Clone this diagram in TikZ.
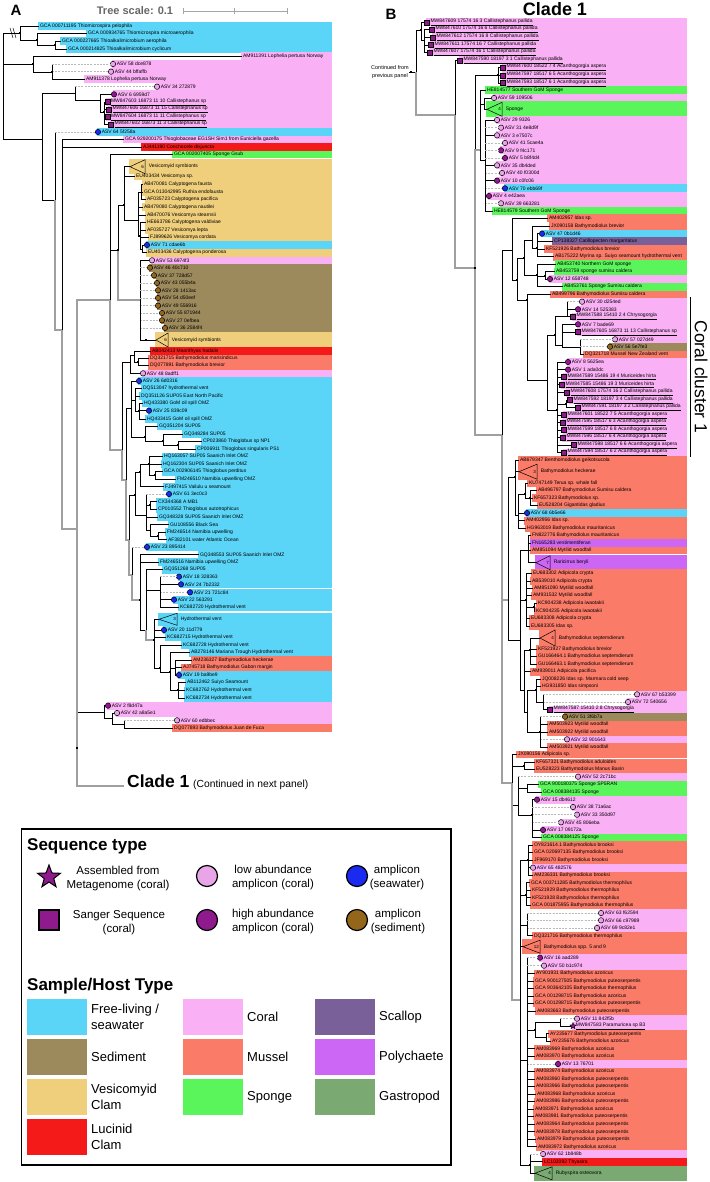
\documentclass[tikz,border=0pt]{standalone}
\usepackage{fontspec}
\setmainfont{Liberation Sans}
\usetikzlibrary{calc,shapes.geometric}
\pgfdeclarelayer{bg}
\pgfsetlayers{bg,main}

% host / sample colours
\definecolor{cyn}{HTML}{5AD5F8}
\definecolor{sed}{HTML}{9C8A5C}
\definecolor{snd}{HTML}{F0CF7C}
\definecolor{luc}{HTML}{F51A1A}
\definecolor{crl}{HTML}{FAB0F5}
\definecolor{mus}{HTML}{FA7B68}
\definecolor{spg}{HTML}{5AF55A}
\definecolor{scl}{HTML}{7A6098}
\definecolor{pol}{HTML}{CC66F5}
\definecolor{gas}{HTML}{7AAA72}
% sequence markers
\definecolor{mlo}{HTML}{E8A6E8}
\definecolor{mhi}{HTML}{8E1A8E}
\definecolor{mbl}{HTML}{1A2AF0}
\definecolor{msd}{HTML}{94661C}

\tikzset{
  br/.style={black,line width=.5pt},
  gb/.style={gray!75,line width=1.1pt},
  dsh/.style={gray!55,dash pattern=on 2pt off 1.2pt,line width=.6pt},
  lbl/.style={font=\fontsize{5}{6}\selectfont,inner sep=.6pt,anchor=west},
  tnum/.style={font=\fontsize{4.5}{5}\selectfont,inner sep=.3pt,anchor=east},
  sup/.style={fill=black,minimum size=2.6pt,inner sep=0},
  mk n/.style={inner sep=0,minimum size=0},
  mk lo/.style={circle,draw=black,line width=.5pt,fill=mlo,minimum size=5.4pt,inner sep=0},
  mk hi/.style={circle,draw=black,line width=.5pt,fill=mhi,minimum size=5.4pt,inner sep=0},
  mk bl/.style={circle,draw=black,line width=.5pt,fill=mbl,minimum size=5.4pt,inner sep=0},
  mk sd/.style={circle,draw=black,line width=.5pt,fill=msd,minimum size=5.4pt,inner sep=0},
  mk sq/.style={rectangle,draw=black,line width=.5pt,fill=mhi,minimum size=5pt,inner sep=0},
  mk st/.style={star,star points=5,star point ratio=2.3,draw=black,line width=.4pt,fill=mhi,minimum size=6.5pt,inner sep=0},
  lgh/.style={font=\bfseries\fontsize{17}{18}\selectfont,inner sep=0,anchor=west},
  lgt/.style={font=\fontsize{11.5}{14}\selectfont,align=center,inner sep=0},
  lgs/.style={font=\fontsize{13}{15.5}\selectfont,align=left,inner sep=0,anchor=west},
  lgm/.style={circle,draw=black,line width=1.2pt,minimum size=21pt,inner sep=0}
}

% leaf: [edge]{name}{parent}{x}{y}{band}{marker}{text}
\newcommand\leaf[8][br]{%
  \node[mk #7] (#2m) at (#4,#5) {};
  \node[lbl] (#2) at (#2m.east) {#8};
  \begin{pgfonlayer}{bg}
    \fill[#6] ($(#2m.center)+(-1.5,-3.8)$) rectangle (\bandR,#5+3.8);
  \end{pgfonlayer}
  \draw[br] (#3) -- (#3 |- #2m.west);
  \draw[#1] (#3 |- #2m.west) -- (#2m.west);
}
% inner node: [edge]{name}{parent}{x}{y}
\newcommand\inode[5][br]{%
  \coordinate (#2) at (#4,#5);
  \draw[#1] (#3) |- (#2);
}
% collapsed clade: {name}{parent}{x}{y}{right}{half}{colour}{count}{text}
\newcommand\clade[9]{%
  \coordinate (#1) at (#3,#4);
  \begin{pgfonlayer}{bg}
    \fill[#7] (#3-1.5,#4-#6-.8) rectangle (\bandR,#4+#6+.8);
  \end{pgfonlayer}
  \draw[fill=#7,line width=.5pt] (#1) -- (#5,#4-#6) -- (#5,#4+#6) -- cycle;
  \node[tnum] (#1n) at (#5-.7,#4) {#8};
  \node[lbl] (#1t) at (#5+3,#4) {#9};
  \draw[br] (#2) |- (#1);
}
\newcommand\swatch[5]{%
  \fill[#4] (#2,#3) rectangle ++(60,36);
  \node[lgs] (#1) at (#2+64,#3+18) {#5};
}

\begin{document}
\begin{tikzpicture}[x=1pt,y=-1pt]
\useasboundingbox (0,0) rectangle (709,1182);

% ---------------- panel A ----------------
\def\bandR{332}
\node[font=\bfseries\fontsize{15}{15}\selectfont] (pA) at (16,10) {A};
\node[font=\bfseries\fontsize{11}{12}\selectfont,text=gray!80!black] (tsc) at (135,11) {Tree scale: 0.1};
\draw[gray!70,line width=.8pt] (183,11) -- (287,11);
\foreach \t in {183,234,287} \draw[gray!70,line width=.8pt] (\t,8) -- (\t,14);

\coordinate (R) at (3,86);
\inode{o1}{R}{20}{33}
\draw[br] (10,28) -- (13,38) (13,28) -- (16,38);
\leaf{a1}{o1}{39}{26}{cyn}{n}{GCA 000711195 Thiomicrospira pelophila}
\inode{o2}{o1}{37}{40}
\leaf{a2}{o2}{87}{33.7}{cyn}{n}{GCA 000934765 Thiomicrospira microaerophila}
\inode{o3}{o2}{55}{45}
\leaf{a3}{o3}{61}{41.3}{cyn}{n}{GCA 000227665 Thioalkalimicrobium aerophila}
\leaf{a4}{o3}{67}{49}{cyn}{n}{GCA 000214825 Thioalkalimicrobium cyclicum}

\inode{L}{R}{33}{64}
\leaf{a5}{L}{242}{56.3}{crl}{n}{AM911391 Lophelia pertusa Norway}
\inode{L1}{L}{52}{72}
\leaf[dsh]{a6}{L1}{113}{64}{crl}{lo}{ASV 58 dce878}
\leaf[dsh]{a7}{L1}{111}{71.7}{crl}{lo}{ASV 44 bffaffb}
\leaf{a8}{L1}{85}{79.3}{crl}{n}{AM911378 Lophelia pertusa Norway}

\inode{M}{R}{42}{139}
\inode{C}{M}{75}{93}
\leaf[dsh]{a9}{C}{157}{86.7}{crl}{lo}{ASV 34 272879}
\inode{C1}{C}{100}{100}
\leaf{a10}{C1}{114}{94.3}{crl}{hi}{ASV 6 6959d7}
\inode{C2}{C1}{104}{112}
\leaf{a11}{C2}{107.5}{102}{crl}{sq}{\underline{MW847603 16873 11 10 Callistephanus sp}}
\leaf{a12}{C2}{109}{109.3}{crl}{sq}{\underline{MW847606 16873 11 15 Callistephanus sp}}
\leaf{a13}{C2}{107.5}{117}{crl}{sq}{\underline{MW847604 16873 11 11 Callistephanus sp}}
\leaf{a14}{C2}{111}{124.7}{crl}{sq}{\underline{MW847602 16873 11 3 Callistephanus sp}}

\inode{M2}{M}{55}{200}
\leaf[dsh]{a15}{M2}{98}{132}{cyn}{bl}{ASV 64 5f258a}
\inode[gb]{M3}{M2}{62}{330}
\leaf{a16}{M3}{124}{139.7}{crl}{n}{GCA 929200175 Thioglobaceae EG1SH Sim1 from Euniciella gazella}
\leaf{a17}{M3}{142}{147}{luc}{n}{AJ441190 Conchocele disjuncta}
\inode[gb]{N77}{M3}{77}{529}
\inode[gb]{V}{N77}{110}{300}
\leaf{a18}{V}{173}{154.7}{spg}{n}{GCA 002007405 Sponge Gsub}

\inode{VS}{V}{118}{250}
\inode{VA}{VS}{124}{205}
\clade{t1}{VA}{130}{166.7}{145}{7}{snd}{6}{Vesicomyid symbionts}
\leaf{a20}{VA}{135}{176.7}{snd}{n}{EU403434 Vesicomya sp.}
\inode{VA1}{VA}{138}{220}
\inode{VA2}{VA1}{141}{192}
\leaf{a21}{VA2}{143}{184.3}{snd}{n}{AB470081 Calyptogena fausta}
\leaf{a22}{VA2}{143}{192}{snd}{n}{GCA 013042995 Ruthia endofausta}
\leaf{a23}{VA2}{146}{199.7}{snd}{n}{AF035723 Calyptogena pacifica}
\leaf{a24}{VA1}{143}{207.3}{snd}{n}{AB479080 Calyptogena nautilei}
\leaf{a25}{VA1}{146}{215}{snd}{n}{AB470076 Vesicomya stearnsii}
\inode{VA3}{VA1}{140}{236}
\leaf{a26}{VA3}{146}{222.7}{snd}{n}{HE663786 Calyptogena valdiviae}
\leaf{a27}{VA3}{146}{230}{snd}{n}{AF035727 Vesicomya lepta}
\leaf{a28}{VA3}{149}{237.7}{snd}{n}{FJ899626 Vesicomya cordata}
\inode{VA4}{VA3}{142}{249}
\leaf{a29}{VA4}{147}{245}{cyn}{bl}{ASV 71 cdae6b}
\leaf{a30}{VA4}{147}{252.7}{snd}{n}{EU403436 Calyptogena ponderosa}

\inode[gb]{VB}{VS}{140}{300}
\leaf{a31}{VB}{152}{260.3}{crl}{lo}{ASV 53 6974f3}
\leaf[dsh]{a32}{VB}{150}{267.7}{sed}{sd}{ASV 46 40c710}
\leaf[dsh]{a33}{VB}{154}{275.3}{sed}{sd}{ASV 37 728d57}
\leaf[dsh]{a34}{VB}{157}{283}{sed}{sd}{ASV 43 055b4a}
\leaf[dsh]{a35}{VB}{158}{290.3}{sed}{sd}{ASV 28 1413ac}
\leaf[dsh]{a36}{VB}{158}{298}{sed}{sd}{ASV 54 d50eef}
\leaf[dsh]{a37}{VB}{158}{305.7}{sed}{sd}{ASV 49 556916}
\leaf[dsh]{a38}{VB}{162}{313}{sed}{sd}{ASV 55 871944}
\leaf[dsh]{a39}{VB}{162}{320.3}{sed}{sd}{ASV 27 0efbea}
\leaf[dsh]{a40}{VB}{165}{328}{sed}{sd}{ASV 36 2584f4}
\inode{VB1}{VB}{146}{340}
\clade{t2}{VB1}{156}{340}{168}{7}{snd}{6}{Vesicomyid symbionts}

\inode[gb]{B1}{V}{122}{450}
\inode{B2}{B1}{130}{362}
\inode{B3}{B2}{134}{355}
\leaf{a41}{B3}{151}{351}{luc}{n}{AB042413 Maorithyas hadalis}
\inode{B4}{B3}{138}{362}
\leaf{a42}{B4}{149}{358.3}{mus}{n}{DQ321715 Bathymodiolus marisindicus}
\leaf{a43}{B4}{149}{365.7}{mus}{n}{DQ077891 Bathymodiolus brevior}
\leaf{a44}{B2}{143}{373.3}{crl}{lo}{ASV 48 8adff1}

\inode[gb]{S1}{B1}{126}{480}
\inode{S2}{S1}{131}{408}
\leaf{a45}{S2}{139}{381}{cyn}{bl}{ASV 26 6d0316}
\inode{S4}{S2}{135}{400}
\leaf{a46}{S4}{142}{388.3}{cyn}{n}{DQ513047 hydrothermal vent}
\leaf{a47}{S4}{140}{396}{cyn}{n}{DQ351126 SUP05 East North Pacific}
\inode{S5}{S4}{139}{411}
\leaf{a48}{S5}{143}{403.3}{cyn}{n}{HQ433380 GoM oil spill OMZ}
\leaf{a49}{S5}{149}{410.7}{cyn}{bl}{ASV 25 839c09}
\leaf{a50}{S5}{146}{419}{cyn}{n}{HQ433415 GoM oil spill OMZ}
\inode{S6}{S2}{145}{437}
\leaf{a51}{S6}{158}{426}{cyn}{n}{GQ351204 SUP05}
\inode{S7}{S6}{163}{441}
\leaf{a52}{S7}{183}{434}{cyn}{n}{GQ348284 SUP05}
\inode{S8}{S7}{178}{445}
\leaf{a53}{S8}{202}{441.3}{cyn}{n}{CP023860 Thioglobus sp NP1}
\leaf{a54}{S8}{196}{449}{cyn}{n}{CP006911 Thioglobus singularis PS1}

\inode[gb]{S3}{S1}{129}{540}
\inode{S9}{S3}{135}{495}
\inode{S11}{S9}{140}{472}
\inode{S12}{S11}{149}{464}
\leaf{a55}{S12}{163}{456.3}{cyn}{n}{HQ163057 SUP05 Saanich Inlet OMZ}
\leaf{a56}{S12}{162}{464}{cyn}{n}{HQ162304 SUP05 Saanich Inlet OMZ}
\inode{S13}{S12}{155}{475}
\leaf{a57}{S13}{163}{471.7}{cyn}{n}{GCA 002906145 Thioglobus perditus}
\leaf{a58}{S13}{176}{479.3}{cyn}{n}{FM246510 Namibia upwelling OMZ}
\leaf{a59}{S11}{164}{486.7}{cyn}{n}{FJ497415 Vailulu u seamount}
\inode{S14}{S9}{146}{515}
\leaf[dsh]{a60}{S14}{169}{494}{cyn}{bl}{ASV 61 3ec0c3}
\inode{S15}{S14}{150}{505}
\leaf{a61}{S15}{157}{501.7}{cyn}{n}{CX344368 A MB1}
\leaf{a62}{S15}{157}{509.3}{cyn}{n}{CP010552 Thioglobus autotrophicus}
\leaf{a63}{S14}{158}{517}{cyn}{n}{GQ348328 SUP05 Saanich Inlet OMZ}
\inode{S16}{S14}{150}{530}
\leaf{a64}{S16}{169}{524.3}{cyn}{n}{GU108556 Black Sea}
\inode{S17}{S16}{158}{536}
\leaf{a65}{S17}{166}{532}{cyn}{n}{FM246514 Namibia upwelling}
\leaf{a66}{S17}{167}{539.3}{cyn}{n}{AF382101 water Atlantic Ocean}

\inode[gb]{S10}{S3}{132}{575}
\leaf[dsh]{a67}{S10}{147}{547}{cyn}{bl}{ASV 23 895414}
\inode[gb]{S18}{S10}{140}{600}
\leaf{a68}{S18}{199}{554.7}{cyn}{n}{GQ348553 SUP05 Saanich Inlet OMZ}
\leaf{a69}{S18}{159}{562}{cyn}{n}{FM246516 Namibia upwelling OMZ}
\inode{S19}{S18}{146}{630}
\leaf{a70}{S19}{163}{569.7}{cyn}{n}{GQ351268 SUP05}
\inode{S20}{S19}{160}{590}
\leaf[dsh]{a71}{S20}{179}{576.7}{cyn}{bl}{ASV 18 328363}
\leaf{a72}{S20}{181}{584.3}{cyn}{bl}{ASV 24 7b2332}
\leaf[dsh]{a73}{S20}{190}{592.3}{cyn}{bl}{ASV 21 721c84}
\leaf{a74}{S20}{174}{599.7}{cyn}{bl}{ASV 22 563291}
\leaf{a75}{S20}{179}{607}{cyn}{n}{KC682720 Hydrothermal vent}
\inode[gb]{S22}{S19}{154}{640}
\clade{t3}{S22}{159}{619.3}{177}{6}{cyn}{3}{Hydrothermal vent}
\leaf{a76}{S22}{164}{630}{cyn}{bl}{ASV 20 11d779}
\leaf{a77}{S22}{166}{637.3}{cyn}{n}{KC682715 Hydrothermal vent}
\inode{S23}{S22}{160}{668}
\leaf{a78}{S23}{182}{645}{cyn}{n}{KC682728 Hydrothermal vent}
\inode{S24}{S23}{170}{672}
\leaf{a79}{S24}{190}{652.7}{cyn}{n}{AB278146 Mariana Trough Hydrothermal vent}
\inode{S25}{S24}{175}{668}
\leaf{a80}{S25}{192}{660}{mus}{n}{AM236327 Bathymodiolus heckerae}
\leaf{a81}{S25}{182}{667.7}{mus}{n}{AJ745718 Bathymodiolus Gabon margin}
\leaf{a82}{S25}{179}{675}{cyn}{bl}{ASV 19 ba9be9}
\inode{S26}{S24}{178}{690}
\leaf{a83}{S26}{186}{682.7}{cyn}{n}{AB112462 Suiyo Seamount}
\leaf{a84}{S26}{185}{690.3}{cyn}{n}{KC682762 Hydrothermal vent}
\leaf{a85}{S26}{185}{698}{cyn}{n}{KC682734 Hydrothermal vent}

\inode{P}{N77}{104}{712}
\leaf{a86}{P}{108}{705.7}{crl}{hi}{ASV 2 f8d47a}
\inode{P1}{P}{112}{718}
\leaf{a87}{P1}{117}{713}{crl}{lo}{ASV 42 a8a5e1}
\inode{P2}{P1}{124}{724}
\leaf[dsh]{a88}{P2}{177}{720.3}{crl}{lo}{ASV 60 edbbec}
\leaf{a89}{P2}{173}{728}{mus}{n}{DQ077893 Bathymodiolus Juan de Fuca}

\coordinate (c1) at (124,786);
\draw[gb] (N77) |- (c1);
\coordinate (N77b) at (77,748);
\node[font=\bfseries\fontsize{17.5}{18}\selectfont,inner sep=0,anchor=base west] (cl1) at (127,787) {Clade 1};
\node[font=\fontsize{10.3}{12}\selectfont,inner sep=0,anchor=base west] (cl1c) at (193,787) {(Continued in next panel)};

\foreach \n in {o1,o2,o3,L,L1,C2,VS,VA,VA3,VB1,B4,S5,S6,S7,S8,S9,S11,S12,S13,S15,S17,S18,S22,S23,S24,S26,N77b}
  \node[sup] (s-\n) at (\n) {};

% ---------------- panel B ----------------
\def\bandR{687}
\node[font=\bfseries\fontsize{15}{15}\selectfont] (pB) at (391,14) {B};
\node[font=\bfseries\fontsize{18}{18}\selectfont] (cladeB) at (555,9) {Clade 1};
\node[font=\fontsize{5.5}{8}\selectfont,align=center,inner sep=0] (cont) at (390,72) {Continued from\\previous panel};
\coordinate (Bin) at (416,72);
\coordinate (Bent) at (411,72);
\draw[br] (cont.east) -- (Bin);

\inode{Bcal}{Bin}{421}{30}
\leaf{b1}{Bcal}{427}{22.3}{crl}{sq}{\underline{MW847609 17574 16 3 Callistephanus pallida}}
\inode{Bc2}{Bcal}{424}{40}
\leaf{b2}{Bc2}{432}{29.7}{crl}{sq}{\underline{MW847610 17574 16 6 Callistephanus pallida}}
\leaf{b3}{Bc2}{433}{37.3}{crl}{sq}{\underline{MW847612 17574 16 8 Callistephanus pallida}}
\leaf{b4}{Bc2}{431}{45}{crl}{sq}{\underline{MW847611 17574 16 7 Callistephanus pallida}}
\leaf{b5}{Bc2}{430}{52.7}{crl}{sq}{\underline{MW847607 17574 16 1 Callistephanus pallida}}
\inode[gb]{Bmain}{Bin}{455}{115}
\leaf{b6}{Bmain}{460}{60.3}{crl}{sq}{\underline{MW847590 18197 3 1 Callistephanus pallida}}
\inode[gb]{Bq}{Bmain}{475}{268}
\inode{Bacan}{Bq}{498}{75}
\leaf{b7}{Bacan}{503}{67.7}{crl}{sq}{\underline{MW847600 18522 7 4 Acanthogorgia aspera}}
\leaf{b8}{Bacan}{503}{75.3}{crl}{sq}{\underline{MW847597 18517 6 5 Acanthogorgia aspera}}
\leaf{b9}{Bacan}{503}{83}{crl}{sq}{\underline{MW847593 18517 6 1 Acanthogorgia aspera}}

\inode[gb]{Bsp}{Bq}{480}{150}
\leaf{b10}{Bsp}{486}{90.3}{spg}{n}{HE814577 Southern GoM Sponge}
\inode{Bsp1}{Bsp}{484}{104}
\leaf{b11}{Bsp1}{494}{98}{crl}{lo}{ASV 59 109506}
\clade{t4}{Bsp1}{487}{109.3}{502}{7}{spg}{4}{Sponge}
\inode{Bsp2}{Bsp}{485}{160}
\leaf{b12}{Bsp2}{497}{120}{crl}{lo}{ASV 29 9326}
\leaf[dsh]{b13}{Bsp2}{501}{127.7}{crl}{lo}{ASV 31 4e8d9f}
\leaf{b14}{Bsp2}{497}{135.3}{crl}{lo}{ASV 3 e7507c}
\leaf[dsh]{b15}{Bsp2}{505}{143}{crl}{lo}{ASV 41 5cae4a}
\leaf[dsh]{b16}{Bsp2}{501}{150.3}{crl}{hi}{ASV 9 f4c171}
\leaf[dsh]{b17}{Bsp2}{505}{158}{crl}{hi}{ASV 5 b8f4d4}
\leaf{b18}{Bsp2}{497}{165.3}{crl}{lo}{ASV 35 db4ded}
\leaf[dsh]{b19}{Bsp2}{502}{173}{crl}{lo}{ASV 40 f0300d}
\leaf{b20}{Bsp2}{497}{180.7}{crl}{hi}{ASV 10 c0fc06}
\leaf[dsh]{b21}{Bsp2}{505}{188.3}{cyn}{bl}{ASV 70 ebb69f}
\leaf{b22}{Bsp2}{489}{196}{crl}{hi}{ASV 4 e42aea}
\leaf[dsh]{b23}{Bsp2}{501}{203.3}{crl}{lo}{ASV 39 663281}
\leaf{b24}{Bsp2}{493}{211}{spg}{n}{HE814579 Southern GoM Sponge}

\inode[gb]{Bz}{Bq}{502}{435}
\inode{Bid}{Bz}{512}{250}
\leaf{b25}{Bid}{548}{218.3}{mus}{n}{AM402957 Idas sp.}
\inode{Bid1}{Bid}{517}{280}
\inode{Bbr}{Bid1}{524}{258}
\inode{Bbr1}{Bbr}{532}{240}
\leaf{b26}{Bbr1}{550}{226}{mus}{n}{JX090158 Bathymodiolus brevior}
\inode{Bbr2}{Bbr1}{537}{248}
\leaf{b27}{Bbr2}{542}{233.7}{cyn}{bl}{ASV 47 0b1d46}
\leaf{b28}{Bbr2}{553}{241.3}{scl}{n}{CP138327 Catillopecten margaritatus}
\leaf{b29}{Bbr2}{545}{249}{mus}{n}{KF521926 Bathymodiolus brevior}
\leaf{b30}{Bbr2}{554}{256.7}{mus}{n}{AB175222 Myrina sp. Suiyo seamount hydrothermal vent}
\inode{Bsg}{Bbr}{537}{275}
\leaf{b31}{Bsg}{556}{264}{spg}{n}{AB453740 Northern GoM sponge}
\inode{Bsg1}{Bsg}{545}{276}
\leaf{b32}{Bsg1}{555}{271.3}{spg}{n}{AB453759 sponge sumisu caldera}
\leaf{b33}{Bsg1}{550}{279}{crl}{hi}{ASV 12 658748}
\leaf{b34}{Bsg}{563}{286.7}{spg}{n}{AB453761 Sponge Sumisu caldera}

\inode{Bcc}{Bid1}{527}{300}
\leaf{b35}{Bcc}{551}{294.3}{mus}{n}{AB499796 Bathymodiolus Sumisu caldera}
\inode{Bcc1}{Bcc}{547}{380}
\inode{Bcc2}{Bcc1}{555}{335}
\inode{Bcc4}{Bcc2}{567}{316}
\leaf[dsh]{b36}{Bcc4}{582}{301.7}{crl}{lo}{ASV 30 d254ed}
\leaf{b37}{Bcc4}{578}{309.3}{crl}{hi}{ASV 14 525383}
\leaf{b38}{Bcc4}{573}{316.7}{crl}{sq}{\underline{MW847588 15410 2 4 Chrysogorgia}}
\inode{Bcc5}{Bcc2}{562}{345}
\leaf{b39}{Bcc5}{578}{324.3}{crl}{hi}{ASV 7 bade69}
\leaf{b40}{Bcc5}{578}{332}{crl}{sq}{\underline{MW847605 16873 11 13 Callistephanus sp}}
\inode{Bcc6}{Bcc5}{580}{347}
\leaf[dsh]{b41}{Bcc6}{615}{339.3}{crl}{lo}{ASV 57 027d49}
\leaf[dsh]{b42}{Bcc6}{610}{346.7}{sed}{sd}{ASV 56 5e7fe3}
\leaf{b43}{Bcc6}{584}{354.3}{mus}{n}{DQ321718 Mussel New Zealand vent}
\inode{Bcc3}{Bcc1}{557}{410}
\leaf{b44}{Bcc3}{568}{362}{crl}{hi}{ASV 8 5625ea}
\leaf{b45}{Bcc3}{568}{369.7}{crl}{hi}{ASV 1 ada0dc}
\leaf{b46}{Bcc3}{564}{377}{crl}{sq}{\underline{MW847589 15486 19 4 Muriceides hirta}}
\leaf{b47}{Bcc3}{562}{384.7}{crl}{sq}{\underline{MW847585 15486 19 3 Muriceides hirta}}
\leaf{b48}{Bcc3}{567}{392.7}{crl}{sq}{\underline{MW847608 17574 16 2 Callistephanus pallida}}
\inode{Bcc7}{Bcc3}{566}{404}
\leaf{b49}{Bcc7}{570}{400}{crl}{sq}{\underline{MW847592 18197 3 4 Callistephanus pallida}}
\leaf{b50}{Bcc7}{578}{407.3}{crl}{sq}{\underline{MW847591 18197 3 2 Callistephanus pallida}}
\leaf{b51}{Bcc3}{564}{415}{crl}{sq}{\underline{MW847601 18522 7 5 Acanthogorgia aspera}}
\leaf{b52}{Bcc3}{563}{422.7}{crl}{sq}{\underline{MW847595 18517 6 3 Acanthogorgia aspera}}
\leaf{b53}{Bcc3}{564}{430}{crl}{sq}{\underline{MW847599 18517 6 8 Acanthogorgia aspera}}
\leaf{b54}{Bcc3}{563}{437.7}{crl}{sq}{\underline{MW847596 18517 6 4 Acanthogorgia aspera}}
\leaf{b55}{Bcc3}{574}{445}{crl}{sq}{\underline{MW847598 18517 6 6 Acanthogorgia aspera}}
\leaf{b56}{Bcc3}{564}{452.7}{crl}{sq}{\underline{MW847594 18517 6 2 Acanthogorgia aspera}}
\draw[line width=1pt] (690,297) -- (690,457);
\node[rotate=-90,font=\fontsize{17.5}{18}\selectfont,inner sep=0] (ccl) at (701,377) {Coral cluster 1};

\inode[gb]{Bm}{Bz}{508}{600}
\inode{Bm1}{Bm}{515}{477}
\leaf{b57}{Bm1}{519}{460}{mus}{n}{AB679347 Benthomodiolus geikotsucola}
\clade{t5}{Bm1}{519}{471.7}{537}{7.5}{mus}{3}{Bathymodiolus heckerae}
\inode{Bm3}{Bm1}{518}{515}
\inode{Bm4}{Bm3}{525}{494}
\leaf{b58}{Bm4}{528}{483}{mus}{n}{KU747149 Terua sp. whale fall}
\inode{Bm5}{Bm4}{530}{498}
\leaf{b59}{Bm5}{537}{490}{mus}{n}{AB496797 Bathymodiolus Sumisu caldera}
\leaf{b60}{Bm5}{533}{498}{mus}{n}{KF657323 Bathymodiolus sp.}
\leaf{b61}{Bm5}{538}{505.7}{mus}{n}{EU528204 Gigantidas gladius}
\leaf{b62}{Bm3}{527}{513}{cyn}{bl}{ASV 68 6b5e66}
\leaf{b63}{Bm3}{525}{520.7}{mus}{n}{AM402956 Idas sp.}
\leaf{b64}{Bm3}{526}{528}{mus}{n}{HG963019 Bathymodiolus mauritanicus}
\inode{Bm6}{Bm}{520}{640}
\inode{Bm7}{Bm6}{528}{550}
\leaf{b65}{Bm7}{531}{535.7}{mus}{n}{FN822776 Bathymodiolus mauritanicus}
\leaf{b66}{Bm7}{531}{543}{pol}{n}{FN165283 vestimentiferan}
\leaf{b67}{Bm7}{531}{550.3}{mus}{n}{AM851094 Mytilid woodfall}
\clade{t6}{Bm7}{536}{562.7}{550}{7}{pol}{7}{Raricirrus beryli}
\inode{Bm8}{Bm6}{526}{600}
\leaf{b68}{Bm8}{532}{573}{mus}{n}{EU683302 Adipicola crypta}
\leaf{b69}{Bm8}{531}{581}{mus}{n}{AB539010 Adipicola crypta}
\leaf{b70}{Bm8}{533}{588.3}{mus}{n}{AM851090 Mytilid woodfall}
\leaf{b71}{Bm8}{532}{595.7}{mus}{n}{AM931532 Mytilid woodfall}
\inode{Bm9}{Bm8}{534}{607}
\leaf{b72}{Bm9}{537}{603.3}{mus}{n}{KC904238 Adipicola iwaotakii}
\leaf{b73}{Bm9}{535}{611}{mus}{n}{KC904235 Adipicola iwaotakii}
\leaf{b74}{Bm8}{530}{618.7}{mus}{n}{EU683308 Adipicola crypta}
\leaf{b75}{Bm8}{530}{626.3}{mus}{n}{EU683305 Idas sp.}
\inode{Bm10}{Bm6}{524}{690}
\inode{Bm11}{Bm10}{530}{650}
\clade{t7}{Bm11}{540}{638}{555}{8}{mus}{4}{Bathymodiolus septemdierum}
\leaf{b76}{Bm11}{537}{649}{mus}{n}{KF521927 Bathymodiolus brevior}
\leaf{b77}{Bm11}{537}{656.7}{mus}{n}{GU166464.1 Bathymodiolus septemdierum}
\leaf{b78}{Bm11}{537}{664.3}{mus}{n}{GU166463.1 Bathymodiolus septemdierum}
\leaf{b79}{Bm10}{531}{671.7}{mus}{n}{AM939011 Adipicola pacifica}
\inode{Bm12}{Bm10}{527}{712}
\inode{Bm13}{Bm12}{536}{690}
\leaf{b80}{Bm13}{541}{679.3}{mus}{n}{JQ008226 Idas sp. Marmara cold seep}
\leaf{b81}{Bm13}{541}{686.7}{mus}{n}{HG931850 Idas simpsoni}
\inode{Bm14}{Bm13}{543}{702}
\leaf[dsh]{b82}{Bm14}{637}{694.3}{crl}{lo}{ASV 67 b53399}
\leaf[dsh]{b83}{Bm14}{628}{702}{crl}{lo}{ASV 72 540656}
\leaf{b84}{Bm14}{550}{709.3}{crl}{sq}{\underline{MW847587 15410 2 8 Chrysogorgia}}
\inode{Bm15}{Bm12}{540}{732}
\leaf[dsh]{b85}{Bm15}{565}{716.7}{sed}{sd}{ASV 51 3f6b7a}
\leaf{b86}{Bm15}{548}{724.3}{mus}{n}{AM503923 Mytilid woodfall}
\leaf{b87}{Bm15}{548}{732}{mus}{n}{AM503922 Mytilid woodfall}
\leaf[dsh]{b88}{Bm15}{567}{739.3}{crl}{lo}{ASV 32 901643}
\leaf{b89}{Bm15}{548}{747}{mus}{n}{AM503921 Mytilid woodfall}

\inode[gb]{Bx}{Bz}{512}{783}
\leaf{b90}{Bx}{517}{754.3}{mus}{n}{JX090156 Adipicola sp.}
\inode{Bmm}{Bx}{524}{766}
\leaf{b91}{Bmm}{535}{762.3}{mus}{n}{KF657321 Bathymodiolus aduloides}
\leaf{b92}{Bmm}{535}{769.5}{mus}{n}{EU528223 Bathymodiolus Manus Basin}
\inode{Bs}{Bx}{518}{805}
\leaf[dsh]{b93}{Bs}{578}{776.7}{crl}{lo}{ASV 52 2c71bc}
\inode{Bs1}{Bs}{527}{788}
\leaf{b94}{Bs1}{539}{784.3}{spg}{n}{GCA 900180375 Sponge SP5RAN}
\leaf{b95}{Bs1}{542}{792}{spg}{n}{GCA 008384135 Sponge}
\inode{Bs2}{Bs}{532}{815}
\leaf{b96}{Bs2}{537}{799.7}{crl}{hi}{ASV 15 db4612}
\leaf[dsh]{b97}{Bs2}{573}{807}{crl}{lo}{ASV 38 71a6ac}
\leaf[dsh]{b98}{Bs2}{577}{814.7}{crl}{lo}{ASV 33 350d97}
\leaf[dsh]{b99}{Bs2}{561}{822.3}{crl}{lo}{ASV 45 806eba}
\leaf{b100}{Bs2}{543}{830}{crl}{hi}{ASV 17 09172a}
\leaf{b101}{Bs2}{542}{837.7}{spg}{n}{GCA 008384125 Sponge}

\inode[gb]{By}{Bx}{520}{1000}
\inode{Bb1}{By}{528}{860}
\leaf{b102}{Bb1}{533}{845}{mus}{n}{OY821614.1 Bathymodiolus brooksi}
\leaf{b103}{Bb1}{533}{852.3}{mus}{n}{GCA 020697135 Bathymodiolus brooksi}
\leaf{b104}{Bb1}{533}{860}{mus}{n}{JF969170 Bathymodiolus brooksi}
\leaf{b105}{Bb1}{533}{867.7}{crl}{lo}{ASV 65 482576}
\leaf{b106}{Bb1}{533}{875.3}{mus}{n}{AM236331 Bathymodiolus brooksi}
\inode{Bb2}{By}{526}{895}
\leaf{b107}{Bb2}{530}{882.7}{mus}{n}{GCA 003711285 Bathymodiolus thermophilus}
\leaf{b108}{Bb2}{531}{890.3}{mus}{n}{KF521929 Bathymodiolus thermophilus}
\leaf{b109}{Bb2}{531}{897.7}{mus}{n}{KF521928 Bathymodiolus thermophilus}
\leaf{b110}{Bb2}{531}{905.3}{mus}{n}{GCA 001875955 Bathymodiolus thermophilus}
\inode{Bb3}{By}{527}{925}
\leaf[dsh]{b111}{Bb3}{601}{913}{crl}{lo}{ASV 63 f62594}
\leaf[dsh]{b112}{Bb3}{601}{920.3}{crl}{lo}{ASV 66 c97989}
\leaf[dsh]{b113}{Bb3}{597}{928}{crl}{lo}{ASV 69 9c82e1}
\leaf{b114}{Bb3}{533}{935.7}{mus}{n}{DQ321716 Bathymodiolus thermophilus}
\clade{t8}{By}{523}{946.7}{540}{6.5}{mus}{12}{Bathymodiolus spp. 5 and 9}
\inode{Bb4}{By}{527}{1060}
\leaf[dsh]{b115}{Bb4}{540}{957.7}{crl}{hi}{ASV 16 aad289}
\leaf[dsh]{b116}{Bb4}{544}{965.7}{crl}{lo}{ASV 50 b1c974}
\leaf{b117}{Bb4}{535}{973.3}{mus}{n}{AY901931 Bathymodiolus azoricus}
\leaf{b118}{Bb4}{534}{981}{mus}{n}{GCA 900127505 Bathymodiolus puteoserpentis}
\leaf{b119}{Bb4}{534}{988.3}{mus}{n}{GCA 903642105 Bathymodiolus thermophilus}
\leaf{b120}{Bb4}{534}{996}{mus}{n}{GCA 001298715 Bathymodiolus azoricus}
\leaf{b121}{Bb4}{534}{1003.3}{mus}{n}{GCA 001298715 Bathymodiolus puteoserpentis}
\leaf{b122}{Bb4}{536}{1011}{mus}{n}{AM083663 Bathymodiolus puteoserpentis}
\inode{Bb5}{Bb4}{535}{1030}
\inode{Bb6}{Bb5}{560}{1022}
\leaf[dsh]{b123}{Bb6}{577}{1018.7}{crl}{lo}{ASV 11 842f5b}
\leaf{b124}{Bb6}{573}{1026}{crl}{st}{\underline{MW847583 Paramuricea sp B3}}
\inode{Bb8}{Bb5}{546}{1037}
\leaf{b125}{Bb8}{549}{1033.7}{mus}{n}{AY235677 Bathymodiolus puteoserpentis}
\leaf{b126}{Bb8}{551}{1041}{mus}{n}{AY235676 Bathymodiolus azoricus}
\leaf{b127}{Bb4}{535}{1048.7}{mus}{n}{AM083969 Bathymodiolus azoricus}
\leaf{b128}{Bb4}{535}{1056.3}{mus}{n}{AM083970 Bathymodiolus azoricus}
\leaf[dsh]{b129}{Bb4}{558}{1064}{crl}{hi}{ASV 13 76701}
\leaf{b130}{Bb4}{535}{1071.3}{mus}{n}{AM083974 Bathymodiolus azoricus}
\leaf{b131}{Bb4}{535}{1079}{mus}{n}{AM083960 Bathymodiolus puteoserpentis}
\leaf{b132}{Bb4}{535}{1086.3}{mus}{n}{AM083966 Bathymodiolus puteoserpentis}
\leaf{b133}{Bb4}{536}{1094}{mus}{n}{AM083968 Bathymodiolus azoricus}
\leaf{b134}{Bb4}{535}{1101.3}{mus}{n}{AM083986 Bathymodiolus puteoserpentis}
\leaf{b135}{Bb4}{534}{1109}{mus}{n}{AM083971 Bathymodiolus azoricus}
\leaf{b136}{Bb4}{534}{1116.3}{mus}{n}{AM083981 Bathymodiolus puteoserpentis}
\leaf{b137}{Bb4}{535}{1124}{mus}{n}{AM083964 Bathymodiolus puteoserpentis}
\leaf{b138}{Bb4}{535}{1131.7}{mus}{n}{AM083978 Bathymodiolus puteoserpentis}
\leaf{b139}{Bb4}{536}{1139}{mus}{n}{AM083979 Bathymodiolus puteoserpentis}
\leaf{b140}{Bb4}{537}{1146.7}{mus}{n}{AM083972 Bathymodiolus azoricus}
\inode{Bb7}{By}{530}{1165}
\leaf[dsh]{b141}{Bb7}{543}{1154}{crl}{lo}{ASV 62 1b848b}
\leaf{b142}{Bb7}{543}{1161.7}{luc}{n}{LC102092 Thyasira}
\clade{t9}{Bb7}{535}{1173.3}{552}{6.5}{gas}{4}{Rubyspira osteovora}

\foreach \n in {Bent,Bcal,Bacan,Bq,Bbr,Bbr2,Bid1,Bsg,Bsg1,Bcc,Bcc2,Bcc3,Bcc7,Bm1,Bm4,Bm5,Bm8,Bm9,Bm11,Bm13,Bm15,Bmm,Bs2,Bb1,Bb2,Bb5,Bb7}
  \node[sup] (s-\n) at (\n) {};

% ---------------- legend ----------------
\draw[line width=1.3pt] (21.7,829) rectangle (451,1165);
\node[lgh] (lgseq) at (27,846) {Sequence type};
\node[star,star points=5,star point ratio=2.4,minimum size=24pt,inner sep=0,fill=mhi,draw=black,line width=1pt] (lgst) at (49,877) {};
\node[lgt] (lgstt) at (118,879) {Assembled from\\Metagenome (coral)};
\node[rectangle,minimum size=20pt,inner sep=0,fill=mhi,draw=black,line width=1.2pt] (lgsq) at (49,920) {};
\node[lgt] (lgsqt) at (119,923) {Sanger Sequence\\(coral)};
\node[lgm,fill=mlo] (lglo) at (207,876) {};
\node[lgt] (lglot) at (273,877.5) {low abundance\\amplicon (coral)};
\node[lgm,fill=mhi] (lghi) at (207,920) {};
\node[lgt] (lghit) at (273,922) {high abundance\\amplicon (coral)};
\node[lgm,fill=mbl] (lgbl) at (357,876) {};
\node[lgt] (lgblt) at (397,877.5) {amplicon\\(seawater)};
\node[lgm,fill=msd] (lgsd) at (357,920) {};
\node[lgt] (lgsdt) at (398,922) {amplicon\\(sediment)};

\node[lgh] (lghost) at (27,986) {Sample/Host Type};
\swatch{sw1}{27}{999}{cyn}{Free-living /\\seawater}
\swatch{sw2}{27}{1039}{sed}{Sediment}
\swatch{sw3}{27}{1079}{snd}{Vesicomyid\\Clam}
\swatch{sw4}{27}{1119}{luc}{Lucinid\\Clam}
\swatch{sw5}{183}{999}{crl}{Coral}
\swatch{sw6}{183}{1039}{mus}{Mussel}
\swatch{sw7}{183}{1079}{spg}{Sponge}
\swatch{sw8}{315}{999}{scl}{Scallop}
\swatch{sw9}{315}{1039}{pol}{Polychaete}
\swatch{sw10}{315}{1079}{gas}{Gastropod}
\end{tikzpicture}
\end{document}
